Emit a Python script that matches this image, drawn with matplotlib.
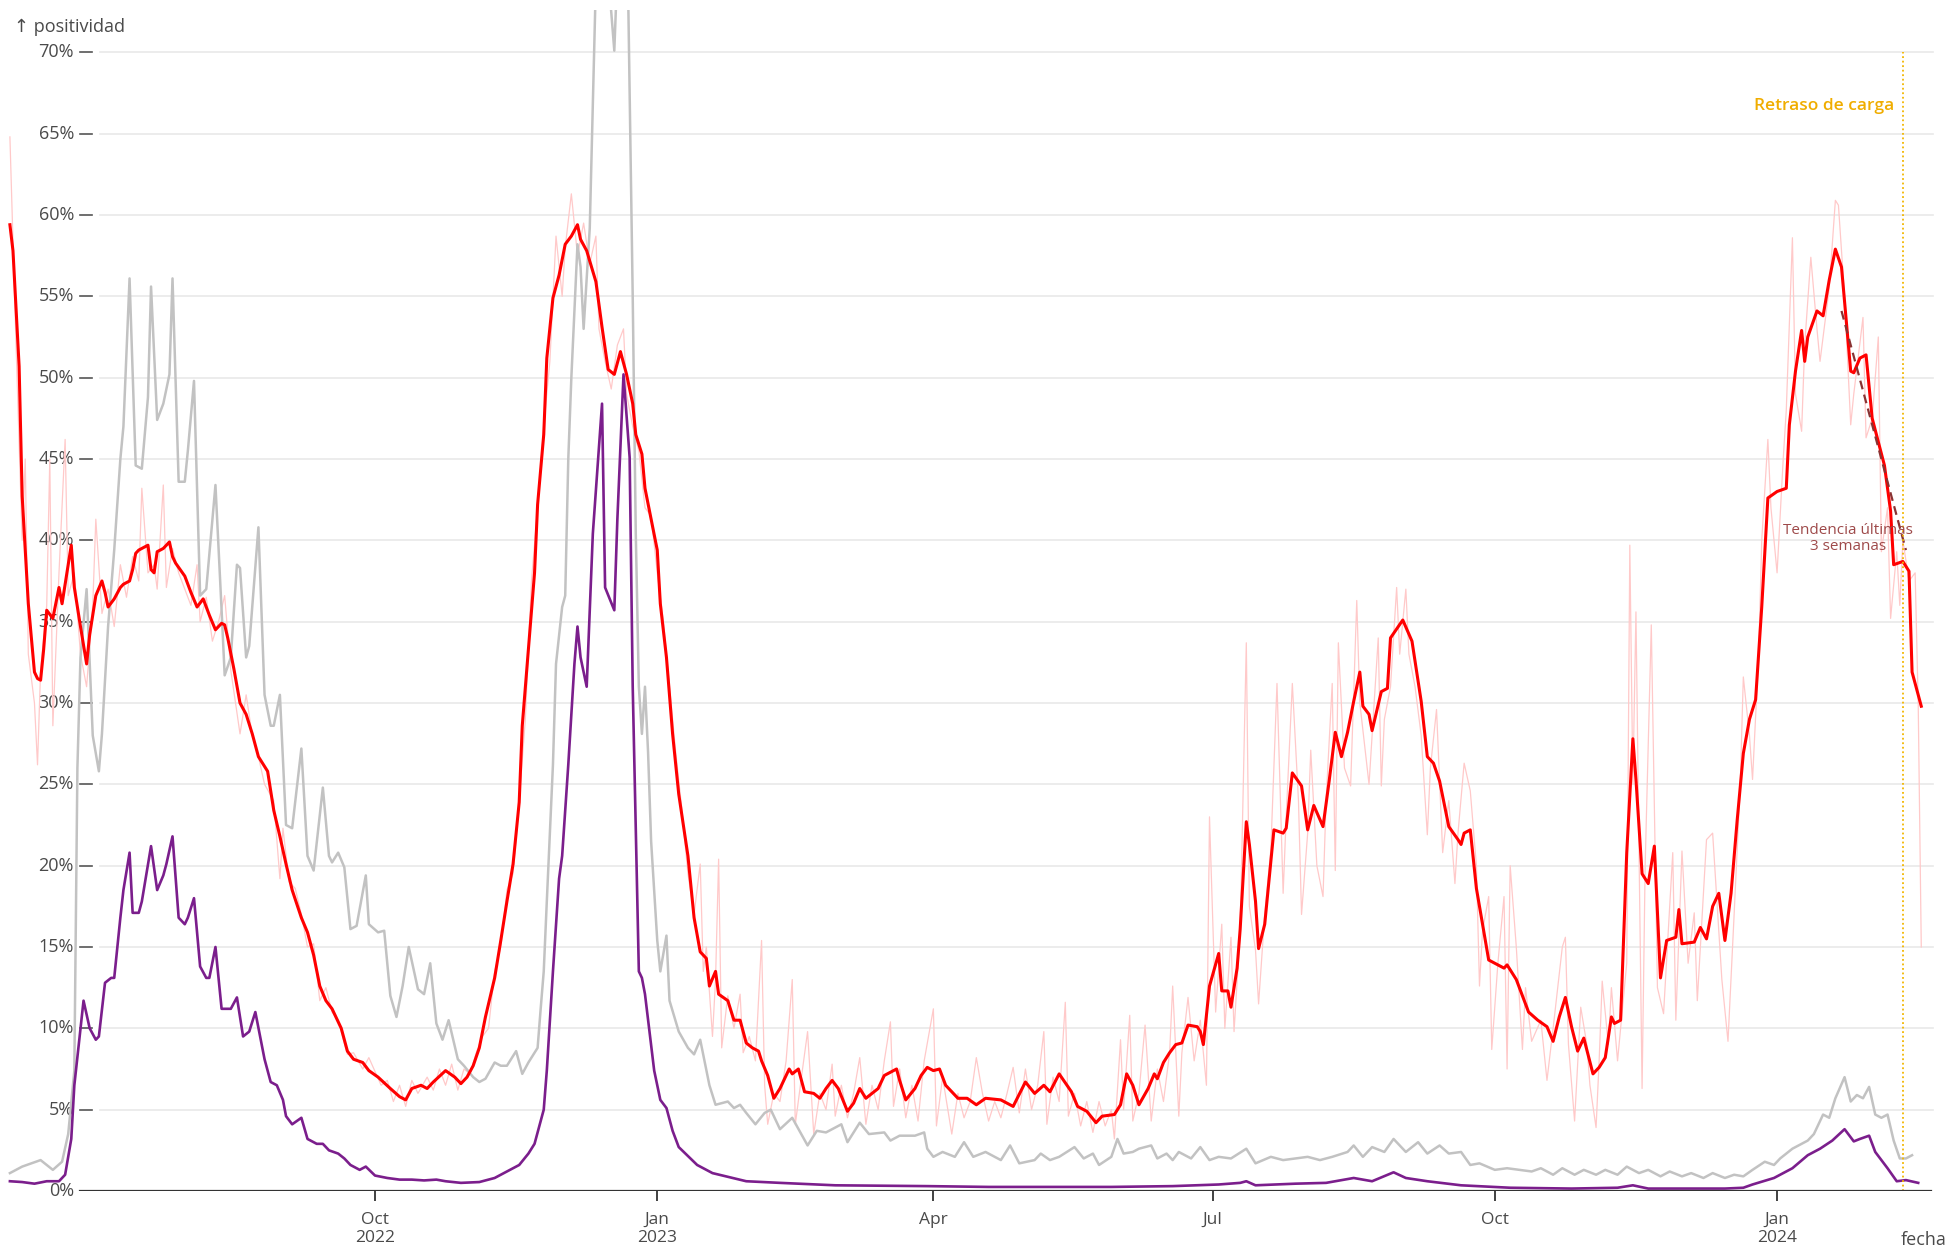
import matplotlib
matplotlib.use("Agg")
import matplotlib.pyplot as plt
import matplotlib.transforms as mtransforms
import pandas as pd

plt.rcParams['font.family'] = ['Open Sans', 'DejaVu Sans']

# fechas como días desde el 1-oct-2022
DIA0 = pd.Timestamp('2022-10-01')

# positividad diaria (bruta)
diaria_dias = [-119, -117, -115, -114, -113, -111, -110, -109, -107, -106, -105, -103, -101, -100, -98, -96,
               -94, -92, -91, -89, -87, -85, -83, -81, -79, -77, -76, -74, -72, -71, -69, -68, -66, -64, -62,
               -60, -58, -57, -55, -53, -51, -49, -47, -44, -42, -40, -38, -36, -33, -31, -30, -28, -26, -24,
               -22, -20, -18, -16, -14, -12, -9, -7, -4, -2, 2, 4, 6, 8, 10, 12, 14, 17, 19, 21, 23, 25, 27,
               29, 31, 33, 35, 37, 39, 41, 43, 45, 47, 49, 51, 53, 55, 57, 59, 61, 62, 64, 66, 68, 70, 72, 73,
               75, 77, 79, 81, 82, 84, 86, 88, 90, 92, 94, 96, 98, 100, 102, 104, 106, 107, 108, 110, 111, 112,
               113, 115, 117, 119, 120, 122, 124, 126, 127, 128, 130, 132, 134, 136, 137, 139, 141, 143, 145,
               147, 149, 150, 152, 154, 156, 158, 160, 162, 164, 166, 168, 169, 171, 173, 175, 177, 179, 182,
               183, 185, 188, 190, 192, 194, 196, 198, 200, 202, 204, 206, 208, 210, 212, 214, 216, 218, 219,
               221, 223, 225, 226, 228, 230, 232, 234, 236, 238, 240, 241, 243, 244, 246, 247, 249, 251, 253,
               255, 257, 259, 260, 262, 263, 265, 267, 269, 271, 272, 274, 276, 277, 279, 280, 282, 284, 285,
               287, 288, 290, 292, 294, 296, 297, 299, 301, 302, 304, 305, 307, 309, 310, 312, 313, 314, 316,
               318, 320, 321, 324, 325, 327, 328, 329, 331, 333, 334, 336, 337, 339, 341, 343, 344, 346, 348,
               350, 352, 353, 355, 357, 359, 360, 361, 363, 364, 366, 368, 369, 370, 372, 374, 375, 377, 380,
               382, 384, 387, 388, 389, 391, 393, 395, 396, 398, 399, 400, 402, 403, 405, 406, 408, 409, 410,
               411, 413, 414, 416, 418, 420, 423, 424, 426, 428, 430, 431, 434, 436, 438, 439, 441, 443, 445,
               446, 448, 449, 451, 452, 454, 455, 457, 459, 460, 462, 463, 465, 466, 468, 470, 471, 473, 474,
               476, 477, 479, 481, 482, 485, 486, 488, 490, 491, 493, 494, 496, 497, 498, 500, 502, 503, 504]
diaria_pct = [64.8, 52, 40, 45, 33, 30, 26.2, 32, 36, 45, 28.6, 38, 46.2, 36.6, 38, 33,
              31, 36, 41.3, 35.5, 37, 34.7, 38.5, 36.5, 39, 37.5, 43.2, 38, 38.5, 37, 43.4, 37.1, 39.5, 38, 37,
              36, 38.5, 35, 36.5, 33.8, 35, 36.6, 32, 28.1, 30.5, 28, 26.7, 25, 24, 19.2, 22.3, 19, 18.6, 17,
              15, 15.2, 11.7, 12.5, 11, 10.5, 8.4, 8.5, 7.5, 8.2, 6.5, 6.8, 5.5, 6.5, 5.2, 6.8, 6.0, 7, 6.2,
              7.5, 6.5, 7.8, 6.2, 7.5, 7.2, 8.5, 9.5, 10, 13.5, 15, 18.5, 19.5, 24, 29, 37.5, 42, 47, 51, 58.7,
              55, 58, 61.3, 57.5, 59.5, 57, 58.7, 53, 51, 49.3, 52, 53, 49, 47, 45.5, 42, 41.5, 38, 35, 31, 27,
              23.5, 19.5, 17, 20.1, 13.5, 15, 9.5, 13, 20.4, 8.8, 12, 10, 12.1, 8.5, 9.5, 8, 15.4, 6.5, 4.1, 6,
              5.5, 8, 13.0, 4.1, 7, 9.8, 3.5, 6, 5, 7.8, 4.6, 6.5, 4.5, 6, 8.2, 4.1, 6.5, 5, 8, 10.4, 5.2, 7.5,
              4.5, 6.5, 4.3, 8, 11.2, 4, 7, 3.5, 6, 4.5, 5.5, 8.2, 6, 4.3, 5.5, 4.5, 6, 7.6, 4.8, 7.5, 5, 6.5,
              9.8, 4.1, 7, 5.5, 11.6, 4.6, 6, 4, 5.5, 3.6, 5.5, 4, 5, 3.2, 9.3, 5, 10.8, 4.3, 6, 10.2, 4.3, 7.5,
              5.5, 8.5, 12.6, 4.6, 8.5, 11.9, 8, 10.5, 6.5, 23, 11, 16.4, 10, 15.6, 9.8, 16, 33.7, 17.5, 14.8,
              11.5, 17, 21, 31.2, 18.3, 23, 31.2, 24, 17, 22, 27.1, 20, 18.1, 24, 31.2, 19.7, 33.7, 26, 24.9,
              36.3, 30, 25, 28, 34, 24.9, 29, 31, 37.1, 33, 37, 33, 31, 28, 21.9, 26, 29.6, 20.8, 24, 18.9, 22,
              26.3, 24.6, 20, 12.6, 16, 18.1, 8.7, 14, 18.1, 7.5, 20, 15, 8.7, 12.5, 9.2, 10.5, 6.8, 10, 15,
              15.6, 9, 4.3, 11.3, 9, 6.5, 3.9, 8, 12.9, 9, 12.5, 8, 10, 14, 39.7, 25, 35.6, 6.3, 20, 34.8,
              12.5, 10.9, 20.8, 10.5, 20.9, 14, 17.1, 11.7, 21.6, 22, 16, 13, 9.2, 17, 25, 31.6, 28, 25.3, 33,
              40, 46.2, 42, 38, 45, 48, 58.6, 49, 46.7, 52, 57.4, 53, 51, 54, 55.5, 60.9, 60.6, 55, 47.1, 49,
              53.7, 46.3, 47.5, 52.5, 39.3, 42, 35.2, 39.3, 36, 40, 37.5, 38, 30, 15]

# positividad, media 7 días
media_dias = [-119, -118, -116, -115, -113, -111, -110, -109, -108, -107, -105, -103, -102, -101, -100, -99,
              -98, -96, -94, -93, -91, -89, -88, -87, -85, -83, -82, -80, -79, -78, -77, -74, -73, -72, -71,
              -69, -67, -66, -65, -62, -60, -58, -56, -54, -52, -50, -49, -48, -46, -44, -42, -40, -38, -35,
              -33, -31, -29, -27, -24, -22, -20, -18, -16, -14, -11, -9, -7, -4, -2, 1, 5, 8, 10, 12, 15, 17,
              19, 23, 26, 28, 30, 32, 34, 36, 39, 41, 43, 45, 47, 48, 50, 52, 53, 55, 56, 58, 60, 62, 64, 66,
              67, 69, 72, 74, 76, 78, 79, 80, 82, 84, 85, 87, 88, 90, 92, 93, 95, 97, 99, 102, 104, 106, 108,
              109, 111, 112, 115, 117, 119, 121, 123, 125, 126, 128, 130, 132, 135, 136, 138, 140, 143, 145,
              147, 149, 151, 154, 156, 158, 160, 164, 166, 170, 171, 173, 176, 178, 180, 182, 184, 186, 190,
              193, 196, 199, 204, 208, 212, 215, 218, 220, 223, 227, 229, 232, 235, 237, 241, 243, 245, 247,
              249, 252, 254, 255, 257, 259, 261, 263, 265, 268, 269, 270, 272, 275, 276, 278, 279, 281, 282,
              284, 285, 287, 288, 290, 293, 296, 297, 299, 302, 304, 306, 309, 311, 313, 315, 317, 319, 321,
              322, 324, 325, 328, 330, 331, 335, 338, 341, 343, 345, 347, 350, 353, 354, 355, 357, 359, 362,
              363, 366, 368, 369, 372, 374, 376, 379, 382, 384, 386, 388, 390, 392, 394, 397, 399, 401, 403,
              404, 406, 408, 410, 411, 413, 415, 417, 419, 421, 424, 425, 426, 430, 432, 434, 436, 438, 440,
              442, 444, 446, 448, 450, 452, 454, 457, 460, 461, 463, 465, 466, 467, 470, 472, 474, 476, 478,
              481, 482, 484, 486, 488, 492, 494, 495, 498, 500, 501, 504]
media_pct = [59.4, 57.8, 50.7, 42.7, 36.1, 31.9, 31.5, 31.4, 33.3, 35.7, 35.2, 37.1, 36.1, 37.3, 38.5, 39.7,
             37.1, 34.7, 32.4, 34.2, 36.6, 37.5, 36.8, 35.9, 36.4, 37.1, 37.3, 37.5, 38.2, 39.2, 39.4, 39.7, 38.2,
             38.0, 39.3, 39.5, 39.9, 39.0, 38.6, 37.8, 36.8, 35.9, 36.4, 35.4, 34.5, 34.9, 34.8, 34.0, 32.1, 30.0,
             29.3, 28.1, 26.7, 25.8, 23.4, 21.8, 20.1, 18.5, 16.8, 15.9, 14.5, 12.6, 11.7, 11.2, 10.0, 8.6, 8.1,
             7.9, 7.4, 7.0, 6.3, 5.8, 5.6, 6.3, 6.5, 6.3, 6.7, 7.4, 7.0, 6.6, 7.0, 7.7, 8.8, 10.7, 13.1, 15.4,
             17.8, 20.1, 23.9, 28.6, 33.3, 38.0, 42.2, 46.5, 51.2, 54.9, 56.3, 58.2, 58.7, 59.4, 58.5, 57.8, 55.9,
             53.1, 50.5, 50.2, 50.9, 51.6, 50.2, 48.4, 46.5, 45.3, 43.2, 41.3, 39.4, 36.1, 32.8, 28.1, 24.4, 20.6,
             16.8, 14.7, 14.3, 12.6, 13.5, 12.1, 11.7, 10.5, 10.5, 9.1, 8.8, 8.6, 8.0, 7.1, 5.7, 6.3, 7.5, 7.2,
             7.5, 6.1, 6.0, 5.7, 6.3, 6.8, 6.3, 4.9, 5.4, 6.3, 5.7, 6.3, 7.1, 7.5, 6.8, 5.6, 6.3, 7.1, 7.6, 7.4,
             7.5, 6.5, 5.7, 5.7, 5.3, 5.7, 5.6, 5.2, 6.7, 6.0, 6.5, 6.1, 7.2, 6.1, 5.2, 4.9, 4.2, 4.6, 4.7, 5.3,
             7.2, 6.5, 5.3, 6.3, 7.2, 6.9, 7.9, 8.5, 9.0, 9.1, 10.2, 10.1, 9.8, 9.0, 12.6, 14.6, 12.3, 12.3, 11.3,
             13.7, 16.1, 22.7, 21.3, 17.8, 14.9, 16.4, 22.2, 22.0, 22.3, 25.7, 24.9, 22.2, 23.7, 22.4, 25.2, 28.2,
             26.7, 28.2, 30.1, 31.9, 29.8, 29.3, 28.3, 30.7, 30.9, 34.0, 35.1, 33.8, 30.1, 26.7, 26.3, 25.2, 22.4,
             21.6, 21.3, 22.0, 22.2, 18.6, 15.3, 14.2, 13.9, 13.7, 13.9, 13.0, 12.0, 11.0, 10.5, 10.1, 9.2, 10.7,
             11.9, 10.1, 8.6, 9.4, 7.2, 7.6, 8.2, 10.7, 10.3, 10.5, 20.8, 27.8, 25.3, 19.5, 18.9, 21.2, 13.1,
             15.4, 15.6, 17.3, 15.2, 15.3, 16.2, 15.5, 17.5, 18.3, 15.4, 18.3, 22.8, 26.9, 29.0, 30.2, 35.9, 42.6,
             43.0, 43.2, 47.1, 50.4, 52.9, 51.0, 52.5, 54.1, 53.8, 56.0, 57.9, 56.8, 50.4, 50.3, 51.2, 51.4, 47.5,
             44.6, 41.8, 38.5, 38.7, 38.1, 31.9, 29.8]

# serie gris
gris_dias = [-119, -115, -109, -105, -102, -100, -98, -97, -96, -94, -92, -90, -89, -87, -85, -83, -82, -80,
             -78, -76, -74, -73, -71, -69, -67, -66, -64, -62, -61, -59, -57, -55, -52, -50, -49, -47, -45,
             -44, -42, -41, -38, -36, -34, -33, -31, -29, -27, -24, -22, -20, -17, -15, -14, -12, -10, -8, -6,
             -3, -2, 1, 3, 5, 7, 9, 11, 14, 16, 18, 20, 22, 24, 27, 29, 32, 34, 36, 39, 41, 43, 46, 48, 50,
             53, 54, 55, 56, 58, 59, 61, 62, 63, 64, 66, 67, 68, 70, 73, 78, 80, 82, 84, 85, 86, 87, 88, 89,
             90, 92, 93, 95, 96, 99, 102, 104, 106, 109, 111, 115, 117, 119, 121, 124, 127, 129, 132, 136,
             141, 144, 147, 152, 154, 158, 161, 166, 168, 171, 176, 179, 180, 182, 185, 189, 192, 195, 199,
             204, 207, 210, 215, 217, 220, 223, 228, 231, 234, 236, 240, 242, 244, 247, 249, 253, 255, 258,
             260, 262, 266, 269, 272, 275, 279, 284, 287, 292, 296, 300, 304, 308, 312, 317, 319, 322, 325,
             329, 332, 334, 336, 340, 343, 347, 350, 354, 357, 360, 365, 369, 373, 377, 380, 384, 387, 391,
             394, 398, 401, 405, 408, 412, 415, 419, 422, 426, 429, 433, 436, 440, 443, 446, 449, 453, 456,
             458, 462, 467, 469, 472, 474, 476, 479, 481, 483, 485, 487, 489, 491, 493, 495, 497, 499, 501]
gris_pct = [1.1, 1.5, 1.9, 1.3, 1.8, 3.5, 7.4, 26, 32.8, 37, 28, 25.8, 28.1, 34.7, 39.4, 45, 47, 56.1,
            44.6, 44.4, 48.8, 55.6, 47.4, 48.4, 50.2, 56.1, 43.6, 43.6, 45.5, 49.8, 36.6, 37, 43.4, 35.7, 31.7,
            32.8, 38.5, 38.3, 32.8, 33.5, 40.8, 30.5, 28.6, 28.6, 30.5, 22.5, 22.3, 27.2, 20.6, 19.7, 24.8, 20.6,
            20.2, 20.8, 19.9, 16.1, 16.3, 19.4, 16.4, 15.9, 16.0, 12.0, 10.7, 12.6, 15.0, 12.4, 12.1, 14.0, 10.3,
            9.3, 10.5, 8.1, 7.7, 7.0, 6.7, 6.9, 7.9, 7.7, 7.7, 8.6, 7.2, 7.9, 8.8, 11.2, 13.5, 17.8, 26.2, 32.4,
            35.9, 36.6, 45, 50, 58.2, 56.8, 53, 59.2, 82, 70.1, 80, 80, 55, 40.4, 31, 28.1, 31, 27, 21.5, 15.4,
            13.5, 15.7, 11.7, 9.8, 8.8, 8.4, 9.3, 6.5, 5.3, 5.5, 5.1, 5.3, 4.8, 4.1, 4.8, 5.0, 3.8, 4.5, 2.8,
            3.7, 3.6, 4.1, 3.0, 4.2, 3.5, 3.6, 3.1, 3.4, 3.4, 3.6, 2.6, 2.1, 2.4, 2.1, 3.0, 2.1, 2.4, 1.9, 2.8,
            1.7, 1.9, 2.3, 1.9, 2.1, 2.7, 2.0, 2.3, 1.6, 2.1, 3.2, 2.3, 2.4, 2.6, 2.8, 2.0, 2.3, 1.9, 2.4, 2.0,
            2.7, 1.9, 2.1, 2.0, 2.6, 1.7, 2.1, 1.9, 2.0, 2.1, 1.9, 2.1, 2.4, 2.8, 2.1, 2.7, 2.4, 3.2, 2.8, 2.4,
            3.0, 2.3, 2.8, 2.3, 2.4, 1.6, 1.7, 1.3, 1.4, 1.3, 1.2, 1.4, 1.0, 1.4, 1.0, 1.3, 1.0, 1.3, 1.0, 1.5,
            1.1, 1.3, 0.9, 1.2, 0.9, 1.1, 0.8, 1.1, 0.8, 1.0, 0.9, 1.3, 1.8, 1.6, 2.0, 2.6, 3.1, 3.5, 4.7, 4.5,
            5.7, 7.0, 5.5, 5.9, 5.7, 6.4, 4.7, 4.5, 4.7, 3.1, 2.0, 2.0, 2.2]

# serie morada
morada_dias = [-119, -115, -111, -107, -103, -101, -99, -98, -96, -95, -93, -91, -90, -88, -86, -85, -83,
               -82, -80, -79, -77, -76, -73, -71, -69, -68, -66, -64, -62, -61, -59, -57, -55, -54, -52, -50,
               -47, -45, -43, -41, -39, -36, -34, -32, -30, -29, -27, -24, -22, -19, -17, -15, -12, -10, -8,
               -5, -3, 0, 4, 8, 12, 16, 20, 23, 28, 34, 39, 43, 47, 50, 52, 55, 56, 58, 60, 61, 63, 65, 66,
               67, 69, 71, 74, 75, 78, 79, 81, 83, 84, 86, 87, 88, 91, 93, 95, 97, 99, 105, 110, 121, 132,
               150, 180, 200, 240, 260, 275, 282, 284, 287, 300, 310, 319, 325, 332, 336, 343, 354, 370, 390,
               405, 410, 415, 440, 446, 449, 456, 462, 467, 471, 475, 479, 482, 484, 487, 489, 493, 496, 499,
               503]
morada_pct = [0.6, 0.55, 0.45, 0.6, 0.6, 1.0, 3.2, 6.5, 10, 11.7, 10, 9.3, 9.5, 12.8, 13.1, 13.1, 16.8,
              18.5, 20.8, 17.1, 17.1, 17.8, 21.2, 18.5, 19.4, 20.1, 21.8, 16.8, 16.4, 16.8, 18, 13.8, 13.1, 13.1,
              15, 11.2, 11.2, 11.9, 9.5, 9.8, 11, 8.1, 6.7, 6.5, 5.6, 4.6, 4.1, 4.5, 3.2, 2.9, 2.9, 2.5, 2.3, 2.0,
              1.6, 1.3, 1.5, 0.95, 0.8, 0.7, 0.7, 0.65, 0.7, 0.6, 0.5, 0.55, 0.8, 1.2, 1.6, 2.3, 2.9, 5.0, 7.4,
              13.5, 19.2, 20.6, 26.2, 32.4, 34.7, 32.8, 31.0, 40.4, 48.4, 37.1, 35.7, 41.3, 50.2, 45.1, 31.0,
              13.5, 13.1, 12.1, 7.4, 5.6, 5.1, 3.7, 2.7, 1.6, 1.1, 0.6, 0.5, 0.35, 0.3, 0.25, 0.25, 0.3, 0.4,
              0.5, 0.6, 0.35, 0.45, 0.5, 0.8, 0.6, 1.15, 0.8, 0.6, 0.35, 0.2, 0.15, 0.2, 0.35, 0.15, 0.15, 0.2,
              0.4, 0.8, 1.4, 2.2, 2.6, 3.1, 3.8, 3.05, 3.2, 3.4, 2.4, 1.4, 0.6, 0.67, 0.5]

# tendencia últimas 3 semanas
tendencia_dias = [478, 499]
tendencia_pct = [54.1, 39.4]
retraso_dia = 498

xticks_dias = [0, 92, 182, 273, 365, 457]
xticks_txt = ['Oct\n2022', 'Jan\n2023', 'Apr', 'Jul', 'Oct', 'Jan\n2024']
yticks = list(range(0, 75, 5))


def fechas(dias):
    return DIA0 + pd.to_timedelta(dias, unit='D')


W, H = 1949, 1251
fig = plt.figure(figsize=(W / 100, H / 100), dpi=100)
ax = fig.add_axes([0, 60 / H, 1, (1191 - 10) / H])
ax.set_xlim(fechas([-375 / 3.068])[0], fechas([(W - 375) / 3.068])[0])
ax.set_ylim(0, 72.6)
for s in ax.spines.values():
    s.set_visible(False)
ax.set_yticks([])

trans = mtransforms.blended_transform_factory(ax.transAxes, ax.transData)
txt_col = '#4a4a4a'

# rejilla y eje y
for v in yticks:
    if v > 0:
        ax.axhline(v, xmin=100 / W, xmax=1933 / W, color='#e9e9e9', lw=1.2, zorder=0)
    ax.plot([80 / W, 92 / W], [v, v], transform=trans, color='#555555', lw=1.2, zorder=0.5)
    ax.text(74 / W, v, f'{v}%', transform=trans, ha='right', va='center',
            fontsize=13, color=txt_col, zorder=0.5)
ax.axhline(0, xmin=80 / W, xmax=1931 / W, color='#333333', lw=1.6, zorder=6)

# series
ax.plot(fechas(diaria_dias), diaria_pct, color='#ffc9c9', lw=0.9, zorder=1)
ax.plot(fechas(gris_dias), gris_pct, color='#c2c2c2', lw=1.8, zorder=2, solid_joinstyle='round')
ax.plot(fechas(media_dias), media_pct, color='#ff0000', lw=2.2, zorder=3, solid_joinstyle='round')
ax.plot(fechas(morada_dias), morada_pct, color='#7b1e8c', lw=1.9, zorder=4, solid_joinstyle='round')
ax.plot(fechas(tendencia_dias), tendencia_pct, color='#8a3232', lw=1.6, ls=(0, (4, 2.5)), zorder=5)

# retraso de carga
rx = fechas([retraso_dia])[0]
ax.plot([rx, rx], [0, 70], color='#f2b600', lw=1.3, ls=(0, (1, 1.5)), zorder=5)
ax.annotate('Retraso de carga', xy=(rx, 66.7), xytext=(-6, 0), textcoords='offset points',
            ha='right', va='center', fontsize=12.5, fontweight='semibold', color='#f0ad00', zorder=7)
ax.text(fechas([480])[0], 40.1, 'Tendencia últimas\n3 semanas', ha='center', va='center',
        fontsize=11, color='#9e4a4a', linespacing=1.1, zorder=7)

# eje x
ax.set_xticks(fechas(xticks_dias))
ax.set_xticklabels(xticks_txt)
ax.tick_params(axis='x', length=7, width=1.3, color='#333333', pad=8,
               labelsize=12.5, labelcolor=txt_col)
for lab in ax.get_xticklabels():
    lab.set_linespacing(1.15)

fig.text(14 / W, 1 - 27 / H, '↑ positividad', ha='left', va='center', fontsize=13, color=txt_col)
fig.text(1947 / W, 1 - 1240 / H, 'fecha', ha='right', va='center', fontsize=13, color=txt_col)

fig.savefig('out.png', dpi=100, facecolor='white')
